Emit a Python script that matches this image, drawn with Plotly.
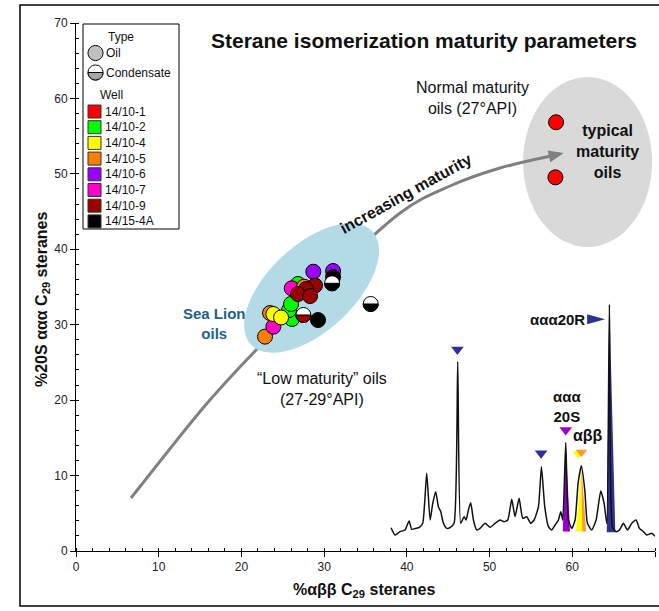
import plotly.graph_objects as go
import numpy as np

W, H = 659, 611
ML, MR, MT, MB = 76, 4, 23, 60
PW, PH = W - ML - MR, H - MT - MB
FONT = "Arial, Liberation Sans, sans-serif"

# ---------------- data ----------------
wells = ["14/10-1", "14/10-2", "14/10-4", "14/10-5", "14/10-6", "14/10-7", "14/10-9", "14/15-4A"]
well_colors = ["#FF0000", "#00FF00", "#FFFF00", "#FF8000", "#9900FF", "#FF00CC", "#990000", "#000000"]

sample_well = ["14/10-5", "14/10-7", "14/10-5", "14/10-2", "14/10-2", "14/10-2", "14/10-4", "14/10-4",
               "14/10-2", "14/10-7", "14/10-5", "14/10-6", "14/10-6", "14/15-4A",
               "14/10-9", "14/10-9", "14/10-9", "14/10-9", "14/15-4A", "14/10-1", "14/10-1",
               "14/10-9", "14/15-4A", "14/15-4A"]
sample_type = ["Oil"] * 21 + ["Condensate"] * 3
abb_pct = [22.85, 23.86, 23.46, 26.12, 25.76, 26.00, 23.86, 24.79,
           26.84, 26.08, 27.57, 28.69, 31.08, 31.08,
           28.90, 27.81, 26.84, 28.30, 29.26, 58.04, 57.96,
           27.49, 30.96, 35.63]
s20_pct = [28.42, 29.74, 31.55, 30.76, 31.95, 32.75, 31.42, 30.96,
           35.40, 34.83, 35.04, 37.03, 37.12, 36.33,
           35.20, 34.73, 34.07, 33.80, 30.62, 56.84, 49.54,
           31.29, 35.49, 32.75]

# chromatogram inset (drawn in plot units)
chrom_x = [38.09, 38.57, 39.18, 39.78, 40.27, 40.59, 41.11, 41.52, 41.92, 42.40, 42.81, 43.13, 43.49,
           43.81, 44.10, 44.42, 44.82, 45.22, 45.71, 46.15, 46.51, 46.92, 47.16, 47.44, 47.72, 48.05,
           48.45, 48.85, 49.46, 50.06, 50.67, 51.27, 51.75, 52.20, 52.68, 53.08, 53.57, 54.01, 54.49,
           54.98, 55.38, 55.91, 56.27, 56.67, 57.12, 57.52, 57.92, 58.32, 58.61, 58.85, 59.21, 59.53,
           59.94, 60.34, 60.70, 61.10, 61.51, 61.83, 62.35, 62.88, 63.44, 63.85, 64.17, 64.49, 64.85,
           65.30, 65.70, 66.18, 66.67, 67.19, 67.72, 68.12, 68.60, 69.00, 69.61, 70.00]
chrom_y = [3.09, 2.12, 2.56, 2.78, 3.98, 2.87, 3.00, 3.14, 3.67, 10.30, 4.11, 6.32, 7.87,
           5.88, 5.21, 3.67, 3.00, 3.09, 3.67, 25.10, 3.67, 4.55, 4.11, 5.44, 6.41, 4.11,
           2.78, 3.00, 3.67, 3.14, 3.67, 4.11, 3.89, 4.11, 6.85, 4.55, 6.98, 4.33, 4.55,
           3.67, 4.11, 5.88, 11.18, 5.88, 3.23, 2.78, 3.45, 4.11, 5.21, 4.11, 14.40, 4.11,
           3.00, 4.11, 8.97, 11.31, 8.09, 3.67, 2.78, 4.11, 7.95, 6.32, 3.67, 32.70, 3.23,
           2.56, 2.78, 3.67, 2.78, 3.67, 4.11, 3.00, 2.56, 2.12, 2.34, 1.95]

peak_20s_x = [58.85, 59.21, 59.73]
peak_20s_y = [2.6, 14.4, 2.6]
peak_abb1_x = [60.46, 61.10, 61.20]
peak_abb1_y = [2.6, 11.3, 2.6]
peak_abb2_x = [61.20, 61.10, 61.67]
peak_abb2_y = [2.6, 11.3, 2.6]
peak_20r_x = [64.17, 64.49, 65.20]
peak_20r_y = [2.5, 32.7, 2.5]

tri_down_x = [46.11, 56.23]
tri_down_y = [26.73, 12.95]
tri_20s = (59.21, 16.04)
tri_abb = [(60.74, 12.86), (61.10, 13.08)]
tri_20r = (62.88, 30.71)

arrow_x = [6.65, 15.36, 21.89, 30.71, 39.18, 45.22, 51.27, 58.53]
arrow_y = [7.03, 18.96, 26.78, 36.46, 44.81, 48.39, 50.78, 52.63]
arrow_tip = (58.95, 52.76)


def pp(px, py):
    return (px - ML) / PW, (H - MB - py) / PH


def catmull(xs, ys):
    pts = list(zip(xs, ys))
    d = f"M {pts[0][0]},{pts[0][1]}"
    for i in range(len(pts) - 1):
        p0 = pts[i - 1] if i > 0 else pts[i]
        p1, p2 = pts[i], pts[i + 1]
        p3 = pts[i + 2] if i + 2 < len(pts) else pts[i + 1]
        c1 = (p1[0] + (p2[0] - p0[0]) / 6, p1[1] + (p2[1] - p0[1]) / 6)
        c2 = (p2[0] - (p3[0] - p1[0]) / 6, p2[1] - (p3[1] - p1[1]) / 6)
        d += f" C {c1[0]:.3f},{c1[1]:.3f} {c2[0]:.3f},{c2[1]:.3f} {p2[0]:.3f},{p2[1]:.3f}"
    return d


fig = go.Figure()
shapes = []
annos = []

# gray ellipse (typical maturity oils)
shapes.append(dict(type="circle", xref="x", yref="y", x0=54.05, x1=69.65, y0=40.3, y1=62.84,
                   fillcolor="#D9D9D9", line=dict(width=0), layer="below"))
# curved arrow line
shapes.append(dict(type="path", xref="x", yref="y", path=catmull(arrow_x, arrow_y),
                   line=dict(color="#808080", width=3), layer="below"))
# arrow head
ang = np.radians(13)
d = np.array([np.cos(ang), np.sin(ang)])
nrm = np.array([-d[1], d[0]])
base = -15 * d
pA, pB = base + 6 * nrm, base - 6 * nrm
shapes.append(dict(type="path", xref="x", yref="y", xsizemode="pixel", ysizemode="pixel",
                   xanchor=arrow_tip[0], yanchor=arrow_tip[1],
                   path=f"M 0,0 L {pA[0]:.2f},{pA[1]:.2f} L {pB[0]:.2f},{pB[1]:.2f} Z",
                   fillcolor="#808080", line=dict(width=0), layer="below"))
# light blue ellipse (Sea Lion oils)
a, b, th = 83, 43, np.radians(43)
t = np.linspace(0, 2 * np.pi, 73)[:-1]
ex = a * np.cos(t) * np.cos(th) - b * np.sin(t) * np.sin(th)
ey = a * np.cos(t) * np.sin(th) + b * np.sin(t) * np.cos(th)
epath = "M " + " L ".join(f"{u:.2f},{v:.2f}" for u, v in zip(ex, ey)) + " Z"
shapes.append(dict(type="path", xref="x", yref="y", xsizemode="pixel", ysizemode="pixel",
                   xanchor=28.48, yanchor=34.87, path=epath, fillcolor="#B3DAE6",
                   line=dict(width=0), layer="below"))

# chromatogram fills
for xs, ys, c in [(peak_20s_x, peak_20s_y, "#9900CC"), (peak_abb1_x, peak_abb1_y, "#FFFF00"),
                  (peak_abb2_x, peak_abb2_y, "#FF9933"), (peak_20r_x, peak_20r_y, "#2E3192")]:
    fig.add_trace(go.Scatter(x=xs, y=ys, mode="lines", fill="toself", fillcolor=c,
                             line=dict(width=0, color=c), hoverinfo="skip", showlegend=False))
fig.add_trace(go.Scatter(x=chrom_x, y=chrom_y, mode="lines",
                         line=dict(color="#111111", width=1.5, shape="spline", smoothing=0.5),
                         hoverinfo="skip", showlegend=False))
# peak markers
fig.add_trace(go.Scatter(x=tri_down_x, y=tri_down_y, mode="markers",
                         marker=dict(symbol="triangle-down", size=11, color="#2E3192"), showlegend=False))
fig.add_trace(go.Scatter(x=[tri_20s[0]], y=[tri_20s[1]], mode="markers",
                         marker=dict(symbol="triangle-down", size=11, color="#9900CC"), showlegend=False))
fig.add_trace(go.Scatter(x=[p[0] for p in tri_abb], y=[p[1] for p in tri_abb], mode="markers",
                         marker=dict(symbol="triangle-down", size=10, color=["#FFFF00", "#FF9933"]),
                         showlegend=False))
shapes.append(dict(type="path", xref="x", yref="y", xsizemode="pixel", ysizemode="pixel",
                   xanchor=tri_20r[0], yanchor=tri_20r[1], path="M -9,5 L 9,0 L -9,-5 Z",
                   fillcolor="#2E3192", line=dict(width=0), layer="above"))

# sample points
cmap = dict(zip(wells, well_colors))
for i in range(len(abb_pct)):
    col = cmap[sample_well[i]] if sample_type[i] == "Oil" else "#FFFFFF"
    fig.add_trace(go.Scatter(x=[abb_pct[i]], y=[s20_pct[i]], mode="markers",
                             marker=dict(size=15, color=col, line=dict(color="black", width=1)),
                             name=sample_well[i], showlegend=False))
    if sample_type[i] == "Condensate":
        r, k = 7.5, 0.5523 * 7.5
        half = (f"M {-r},0 C {-r},{-k} {-k},{-r} 0,{-r} C {k},{-r} {r},{-k} {r},0 Z")
        shapes.append(dict(type="path", xref="x", yref="y", xsizemode="pixel", ysizemode="pixel",
                           xanchor=abb_pct[i], yanchor=s20_pct[i], path=half,
                           fillcolor=cmap[sample_well[i]], line=dict(color="black", width=1), layer="above"))


def txt(text, x, y, size=13, bold=False, color="#111111", xref="x", yref="y", xanchor="center",
        angle=0):
    if bold:
        text = "<b>" + text.replace("<br>", "</b><br><b>") + "</b>"
    annos.append(dict(text=text, x=x, y=y, xref=xref, yref=yref, showarrow=False, xanchor=xanchor,
                      yanchor="middle", textangle=angle, font=dict(family=FONT, size=size, color=color)))


def ptxt(text, px, py, **kw):
    x, y = pp(px, py)
    txt(text, x, y, xref="paper", yref="paper", **kw)


ptxt("Sterane isomerization maturity parameters", 424, 41, size=21, bold=True)
txt("Normal maturity<br>oils (27°API)", 47.9, 60.0, size=16)
txt("typical<br>maturity<br>oils", 64.3, 52.9, size=16, bold=True)
txt("increasing maturity", 39.9, 47.4, size=16, bold=True, angle=-29)
txt("Sea Lion<br>oils", 16.7, 30.1, size=15, bold=True, color="#1F5F8E")
txt("“Low maturity” oils<br>(27-29°API)", 29.7, 21.5, size=16)
txt("ααα20R", 61.8, 30.7, size=15, bold=True, xanchor="right")
txt("ααα<br>20S", 59.4, 19.2, size=15, bold=True)
txt("αββ", 61.9, 15.3, size=16, bold=True)

# axis titles
ptxt("%20S ααα C<sub>29</sub> steranes", 42, 300, size=16, bold=True, angle=-90)
ptxt("%αββ C<sub>29</sub> steranes", 364, 590, size=16, bold=True)

# ---------------- manual legend ----------------
x0, y0 = pp(83, 24)
x1, y1 = pp(179, 229)
shapes.append(dict(type="rect", xref="paper", yref="paper", x0=x0, y0=y1, x1=x1, y1=y0,
                   fillcolor="white", line=dict(color="black", width=1), layer="above"))
ptxt("Type", 121, 37, size=12)
ptxt("Well", 111, 95, size=12)
ptxt("Oil", 104, 53, size=12, xanchor="left")
ptxt("Condensate", 104, 72.5, size=12, xanchor="left")
circ = ("M -7.5,0 C -7.5,4.14 -4.14,7.5 0,7.5 C 4.14,7.5 7.5,4.14 7.5,0 "
        "C 7.5,-4.14 4.14,-7.5 0,-7.5 C -4.14,-7.5 -7.5,-4.14 -7.5,0 Z")
ox, oy = pp(95.5, 53)
shapes.append(dict(type="path", xref="paper", yref="paper", xsizemode="pixel", ysizemode="pixel",
                   xanchor=ox, yanchor=oy, path=circ,
                   fillcolor="#C0C0C0", line=dict(color="black", width=1), layer="above"))
cx, cy = pp(95.5, 72.5)
shapes.append(dict(type="path", xref="paper", yref="paper", xsizemode="pixel", ysizemode="pixel",
                   xanchor=cx, yanchor=cy, path=circ,
                   fillcolor="#FFFFFF", line=dict(color="black", width=1), layer="above"))
shapes.append(dict(type="path", xref="paper", yref="paper", xsizemode="pixel", ysizemode="pixel",
                   xanchor=cx, yanchor=cy,
                   path="M -7.5,0 C -7.5,-4.14 -4.14,-7.5 0,-7.5 C 4.14,-7.5 7.5,-4.14 7.5,0 Z",
                   fillcolor="#A6A6A6", line=dict(color="black", width=1), layer="above"))
for i, (w, c) in enumerate(zip(wells, well_colors)):
    yy = 111.5 + 15.7 * i
    sx, sy = pp(94.5, yy)
    shapes.append(dict(type="rect", xref="paper", yref="paper", xsizemode="pixel", ysizemode="pixel",
                       xanchor=sx, yanchor=sy, x0=-6.5, x1=6.5, y0=-6.5, y1=6.5,
                       fillcolor=c, line=dict(color="#333333", width=1), layer="above"))
    ptxt(w, 103, yy, size=12, xanchor="left")

# outer frame
fx0, fy0 = pp(20, 5)
fx1, fy1 = pp(700, 606)
shapes.append(dict(type="rect", xref="paper", yref="paper", x0=fx0, y0=fy1, x1=fx1, y1=fy0,
                   line=dict(color="black", width=1.5), fillcolor="rgba(0,0,0,0)", layer="above"))

axis_common = dict(showgrid=False, zeroline=False, showline=True, linecolor="black", linewidth=1,
                   ticks="outside", ticklen=5, tickcolor="black", tickwidth=1,
                   tickfont=dict(family=FONT, size=12, color="#222222"),
                   minor=dict(ticks="inside", ticklen=3, dtick=2, tickcolor="black", showgrid=False),
                   range=[0, 70], dtick=10, tick0=0, fixedrange=True)
fig.update_layout(
    width=W, height=H, margin=dict(l=ML, r=MR, t=MT, b=MB, autoexpand=False),
    paper_bgcolor="white", plot_bgcolor="white",
    xaxis=axis_common, yaxis=axis_common,
    shapes=shapes, annotations=annos, showlegend=False,
    font=dict(family=FONT),
)
fig.write_html("out.html")
